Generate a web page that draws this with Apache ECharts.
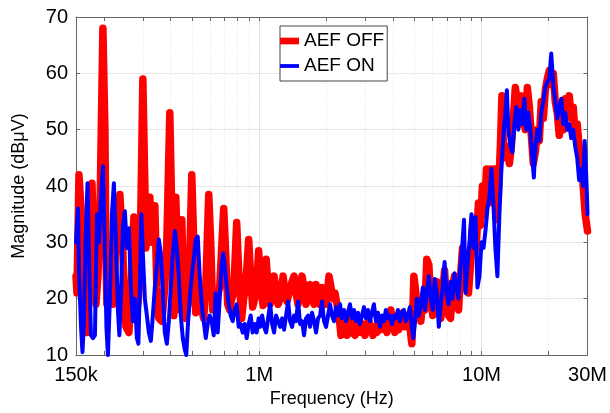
<!DOCTYPE html>
<html>
<head>
<meta charset="utf-8">
<script src="https://cdn.jsdelivr.net/npm/echarts@6/dist/echarts.min.js"></script>
<style>html,body{margin:0;padding:0;background:#fff}#c{width:610px;height:413px}</style>
</head>
<body>
<div id="c"></div>
<script>
// Frequencies in MHz, magnitudes in dBuV
const redFreq = [
0.150,0.1515,0.1547,0.1580,0.1613,0.1646,0.1681,0.1716,0.1769,0.1806,
0.1844,0.1883,0.1922,0.1982,0.2024,0.2045,0.2066,0.2131,0.2198,0.2268,
0.2363,0.2438,0.2515,0.2594,0.2648,0.2732,0.2789,0.2847,0.2906,0.2998,
0.3061,0.3093,0.3157,0.3223,0.3290,0.3394,0.3465,0.3537,0.3649,0.3764,
0.3842,0.3963,0.4046,0.4131,0.4217,0.4305,0.4395,0.4487,0.4580,0.4676,
0.4823,0.4975,0.5079,0.5185,0.5293,0.5404,0.5517,0.5632,0.5750,0.5931,
0.6054,0.6181,0.6310,0.6442,0.6645,0.6925,0.7070,0.7218,0.7369,0.7523,
0.7680,0.7922,0.8087,0.8342,0.8516,0.8694,0.8969,0.9156,0.9348,0.9543,
0.9742,0.9946,1.010,1.042,1.053,1.075,1.097,1.120,1.144,1.167,
1.192,1.217,1.242,1.281,1.308,1.335,1.363,1.406,1.436,1.466,
1.496,1.528,1.559,1.592,1.625,1.659,1.694,1.729,1.766,1.803,
1.840,1.879,1.918,1.958,1.999,2.062,2.105,2.149,2.193,2.239,
2.286,2.334,2.383,2.433,2.483,2.535,2.588,2.642,2.697,2.754,
2.811,2.870,2.930,2.991,3.053,3.117,3.183,3.249,3.317,3.386,
3.457,3.529,3.603,3.678,3.755,3.833,3.913,3.995,4.078,4.163,
4.251,4.339,4.430,4.523,4.617,4.763,4.862,4.964,5.068,5.120,
5.227,5.336,5.447,5.561,5.677,5.796,5.917,6.041,6.167,6.296,
6.428,6.562,6.685,6.824,6.966,7.111,7.260,7.411,7.566,7.723,
7.884,8.049,8.216,8.388,8.563,8.741,8.923,9.109,9.299,9.493,
9.691,9.893,10.10,10.31,10.53,10.75,10.97,11.20,11.43,11.67,
11.92,12.16,12.36,12.55,12.81,13.07,13.35,13.63,13.91,14.20,
14.50,14.80,15.11,15.43,15.75,16.08,16.42,16.76,17.11,17.47,
17.83,18.20,18.58,18.97,19.37,19.77,20.18,20.60,21.03,21.47,
21.92,22.38,22.85,23.32,23.81,24.31,24.82,25.33,25.86,26.40,
26.95,27.51,28.09,28.67,29.27,30
];
const redDb = [
24,21,42,36,20,14,14,24,40.5,30,
19,24,35,68,50,28,19,26,19,30,
38.5,28,15,14,20,34.5,22,19,24,59,
40,29,33,38,30,36.5,22,16.5,16,22,
30,53,35,17,38,26,18,34,20,16.5,
20,42,30,17.5,20,22,18,16.5,22,38.5,
30,18,18.5,20,22,36,28,19,18,20,
21,33.5,25,16.5,20,22,30.5,24,18.5,20,
22,28.5,23,18.8,20,27,22,19,21,24,
21,19,20,24,21,19.5,21,23,24,21,
19,22,24,22,19,21,22.5,20,19,22.5,
20.5,19,22,20,19,24,22,20,21,19,
17,13.5,14.5,16,13.5,14,16.5,14,13.5,15,
16.5,14,15.5,13.5,14.5,16,15,13.5,15,14,
16,14.5,16.5,15,14,16,18,15.5,14,16,
14.5,16,17.5,15,16.5,15,12,24,21,17,
19,16,20,18,27,26,20,17,19,23,
18,16.5,21,25,19,17,16.5,22,24,20,
18,24,29,22,27,21,26,33,28,30,
37,33,40,35,43,38,43,37,43,34,
39,47,56,47,45,47,44,47,52,57.5,
55,51,56,52,50,57.5,54,49,44,46,
50,48,55,52,57,59,60.5,58,60,55,
53,49,53,50,55.5,53,56,52,54,49,
51,47,45,40,35,32
];
const blueFreq = [
0.150,0.1531,0.1547,0.1580,0.1604,0.1629,0.1655,0.1690,0.1716,0.1751,
0.1788,0.1825,0.1864,0.1903,0.1942,0.1983,0.2024,0.2056,0.2088,0.2131,
0.2176,0.2221,0.2268,0.2315,0.2351,0.2388,0.2438,0.2489,0.2541,0.2594,
0.2649,0.2704,0.2761,0.2818,0.2862,0.2906,0.2952,0.2998,0.3061,0.3125,
0.3190,0.3257,0.3325,0.3394,0.3465,0.3538,0.3612,0.3687,0.3764,0.3843,
0.3923,0.4005,0.4089,0.4174,0.4261,0.4350,0.4441,0.4534,0.4628,0.4700,
0.4774,0.4873,0.4975,0.5079,0.5185,0.5293,0.5404,0.5517,0.5632,0.5750,
0.5870,0.5992,0.6117,0.6245,0.6376,0.6509,0.6645,0.6784,0.6890,0.6998,
0.7144,0.7294,0.7446,0.7602,0.7760,0.7922,0.8088,0.8257,0.8429,0.8605,
0.8785,0.8969,0.9157,0.9348,0.9543,0.9743,0.9946,1.0103,1.0313,1.0530,
1.0750,1.0973,1.1203,1.1437,1.1673,1.1917,1.2167,1.2423,1.2683,1.2947,
1.3217,1.3493,1.3777,1.4063,1.4357,1.4657,1.4963,1.5277,1.5593,1.5920,
1.6253,1.6593,1.6940,1.7293,1.7657,1.8027,1.8403,1.8787,1.9177,1.9577,
1.9987,2.0407,2.0833,2.1267,2.1710,2.2163,2.2627,2.3100,2.3583,2.4077,
2.4580,2.5093,2.5617,2.6150,2.6697,2.7257,2.7827,2.8407,2.9000,2.9607,
3.0223,3.0853,3.1500,3.2157,3.2827,3.3513,3.4213,3.4927,3.5657,3.6403,
3.7163,3.7940,3.8733,3.9540,4.0363,4.1207,4.2070,4.2950,4.3847,4.4763,
4.5697,4.6650,4.7627,4.8623,4.938,5.015,5.120,5.227,5.336,5.447,
5.561,5.677,5.796,5.917,6.041,6.167,6.296,6.428,6.562,6.685,
6.824,6.966,7.111,7.260,7.411,7.566,7.723,7.884,8.049,8.216,
8.345,8.475,8.652,8.832,9.016,9.204,9.396,9.591,9.792,10.0,
10.21,10.42,10.64,10.86,11.08,11.31,11.55,11.79,12.04,12.29,
12.55,12.81,13.01,13.21,13.49,13.77,14.06,14.35,14.65,14.96,
15.27,15.59,15.91,16.25,16.59,16.93,17.20,17.47,17.83,18.20,
18.58,18.97,19.37,19.77,20.18,20.60,21.03,21.47,21.92,22.38,
22.85,23.32,23.81,24.31,24.82,25.33,25.86,26.40,26.95,27.51,
28.09,28.67,29.12,29.58,30
];
const blueDb = [
30,36,25,15,10.5,16,30,40.5,28,13.5,
13,13.5,35,30,38,43.5,28,15,10,20,
35,40.5,30,18,13.5,20,33,35.5,29,32.5,
22,16,20,13,12,22,35,28,20,17,
14,12.5,17,22,26,30.5,28,21,14,12,
16,22,28,32,29,24,17,13,11,10,
15,20,24,27,30.5,31,24,19,16,13,
15.5,17,16,13.5,21,14,20,26,28,26,
22,19,17,16,18,19,15,15.5,14,15.5,
13,15.5,17,14,15.5,14,16.5,15,17,15,
14,16.5,19,15.5,14,17,16,15,16.5,14.5,
17,19.5,16,15,17,16,19.5,15.5,16,13.5,
16.5,17,15,17.5,16,14,16.5,17,19.5,16,
15,17,19,17,16,18.5,17,19,16.5,18,
16,17.5,19,16.5,18,16,17.5,15.5,17,18.5,
16.5,18,16,17.5,19,16,17.5,15,17,16,
18,16.5,17,15.5,17,16.5,18,16,17.5,18,
16,17,18.5,15,13,15.5,20,17,19,22,
18,21,24,20,18,23.5,21,15,19,22,
26.5,21,19,23,20,24.5,22,20,26,30,
34,21,26,30,35,29,34.5,22,24,30,
29,32,36,38,43,37,29,24,35,43,
49,53,57,50,47,46,51,54,50,53.5,
51,55.5,50,53,50,45,41.5,47,50,48,
53,55,57.5,58.5,59,63.5,58,55,52,54,
55.5,51,53,50,51,48.5,50,47,45,41,
43,40,48,42,35
];
const seriesNames = ['AEF OFF', 'AEF ON'];
const xLabelValues = [0.15, 1, 10, 30];
const xLabelTexts = ['150k', '1M', '10M', '30M'];
const xMinorTicks = [0.2,0.3,0.4,0.5,0.6,0.7,0.8,0.9,2,3,4,5,6,7,8,9,20];
const xMajorTicks = [1, 10];
const yMin = 10, yMax = 70, yStep = 10;

const FONT = "'Liberation Sans', Arial, sans-serif";
const allTicks = xMinorTicks.concat(xMajorTicks).sort((a,b)=>a-b);
const labelPos = xLabelValues.map((v,i)=> i===0 ? v*1.000001 : (i===xLabelValues.length-1 ? v*0.999999 : v));
function fmtX(v){
  let best=0, bd=1e9;
  xLabelValues.forEach((lv,i)=>{const d=Math.abs(Math.log(v)-Math.log(lv)); if(d<bd){bd=d;best=i;}});
  return xLabelTexts[best];
}
const logCommon = {type:'log', logBase:10, min:0.15, max:30};
const axisCol = '#666';

const chart = echarts.init(document.getElementById('c'), null, {renderer:'canvas'});
chart.setOption({
  animation:false,
  backgroundColor:'#fff',
  grid:{left:76, right:21, top:17, bottom:54, containLabel:false},
  legend:{
    orient:'vertical', left:280, top:26,
    padding:[4,3,4,0], itemGap:3, itemWidth:19, itemHeight:14,
    backgroundColor:'#fff', borderColor:'#444', borderWidth:1,
    selectedMode:false,
    textStyle:{fontFamily:FONT, fontSize:19, color:'#000', lineHeight:22},
    data:[
      {name:seriesNames[0], icon:'path://M0,0H20V7H0Z'},
      {name:seriesNames[1], icon:'path://M0,0H20V4H0Z'}
    ]
  },
  xAxis:[
    Object.assign({}, logCommon, {
      position:'bottom',
      axisLine:{show:true, onZero:false, lineStyle:{color:axisCol, width:1}},
      axisTick:{show:true, inside:true, length:4, customValues:allTicks, lineStyle:{color:axisCol}},
      axisLabel:{customValues:labelPos, formatter:fmtX, fontSize:20, color:'#000', margin:10, fontFamily:FONT},
      splitLine:{show:false},
      name:'Frequency (Hz)', nameLocation:'middle', nameGap:35,
      nameTextStyle:{fontSize:18, color:'#000', fontFamily:FONT}
    }),
    Object.assign({}, logCommon, {
      position:'top',
      axisLine:{show:true, onZero:false, lineStyle:{color:axisCol, width:1}},
      axisTick:{show:true, inside:true, length:4, customValues:allTicks, lineStyle:{color:axisCol}},
      axisLabel:{show:false},
      splitLine:{show:true, lineStyle:{color:'#e6e6e6', width:1, type:[1,2]}}
    }),
    Object.assign({}, logCommon, {
      position:'bottom',
      axisLine:{show:false, onZero:false},
      axisTick:{show:false, customValues:xMajorTicks},
      axisLabel:{show:false},
      splitLine:{show:true, lineStyle:{color:'#e2e2e2', width:1}}
    })
  ],
  yAxis:[
    {
      type:'value', min:yMin, max:yMax, interval:yStep, position:'left',
      axisLine:{show:true, onZero:false, lineStyle:{color:axisCol, width:1}},
      axisTick:{show:true, inside:true, length:4, lineStyle:{color:axisCol}},
      axisLabel:{fontSize:20, color:'#000', margin:8, fontFamily:FONT},
      splitLine:{show:true, lineStyle:{color:'#e6e6e6', width:1}},
      name:'Magnitude (dBμV)', nameLocation:'middle', nameGap:48,
      nameTextStyle:{fontSize:18, color:'#000', fontFamily:FONT}
    },
    {
      type:'value', min:yMin, max:yMax, interval:yStep, position:'right',
      axisLine:{show:true, onZero:false, lineStyle:{color:axisCol, width:1}},
      axisTick:{show:true, inside:true, length:4, lineStyle:{color:axisCol}},
      axisLabel:{show:false},
      splitLine:{show:false}
    }
  ],
  series:[
    {
      name:seriesNames[0], type:'line', xAxisIndex:0, yAxisIndex:0,
      data:redFreq.map((f,i)=>[f, redDb[i]]),
      showSymbol:false, symbol:'none', color:'#ff0000', clip:true,
      lineStyle:{width:7.5, color:'#ff0000', cap:'round', join:'round'}, z:2
    },
    {
      name:seriesNames[1], type:'line', xAxisIndex:0, yAxisIndex:0,
      data:blueFreq.map((f,i)=>[f, blueDb[i]]),
      showSymbol:false, symbol:'none', color:'#0000ff', clip:true,
      lineStyle:{width:4, color:'#0000ff', cap:'round', join:'round'}, z:3
    }
  ]
});
</script>
</body>
</html>
